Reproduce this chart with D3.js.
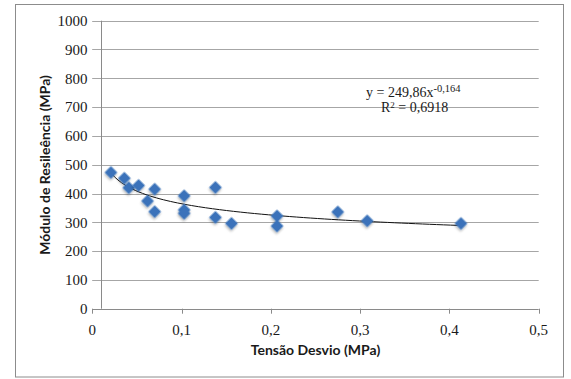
<!DOCTYPE html>
<html>
<head>
<meta charset="utf-8">
<script src="https://cdn.jsdelivr.net/npm/d3@7"></script>
<style>
  html, body { margin: 0; padding: 0; background: #fff; }
  svg { display: block; }
</style>
</head>
<body>
<svg id="chart" width="571" height="379"></svg>
<script>
// Deviator stress (MPa) and resilient modulus (MPa) measurements
const tensaoDesvio = [0.021, 0.036, 0.041, 0.052, 0.062, 0.070, 0.070, 0.103, 0.103, 0.103,
                      0.138, 0.138, 0.156, 0.207, 0.207, 0.275, 0.308, 0.413];
const moduloResiliencia = [473, 453, 420, 428, 374, 415, 337, 392, 343, 331,
                           421, 317, 296, 322, 287, 336, 305, 296];

// Power-law fit: y = a * x^b
const fitA = 249.86;
const fitB = -0.164;
const fitR2 = "0,6918";

const xTicks = [0, 0.1, 0.2, 0.3, 0.4, 0.5];
const yTicks = [0, 100, 200, 300, 400, 500, 600, 700, 800, 900, 1000];

const svg = d3.select("#chart");

const x = d3.scaleLinear().domain([0, 0.5]).range([92.2, 538.7]);
const y = d3.scaleLinear().domain([0, 1000]).range([308.7, 20.7]);
const yAxisX = 101.5;
const fmtComma = v => (v === 0 ? "0" : d3.format(".1f")(v).replace(".", ","));
const serif = "'Liberation Serif', 'DejaVu Serif', serif";
const sans = "Lato, 'Open Sans', sans-serif";

// Outer chart border
svg.append("rect")
  .attr("x", 15.5).attr("y", 4.5)
  .attr("width", 548).attr("height", 372.5)
  .attr("fill", "#fff").attr("stroke", "#8c8c8c").attr("stroke-width", 1);

// Horizontal gridlines (0 line is the x axis)
svg.append("g")
  .selectAll("line")
  .data(yTicks)
  .join("line")
  .attr("x1", x(0)).attr("x2", x(0.5))
  .attr("y1", d => Math.round(y(d)) + 0.5).attr("y2", d => Math.round(y(d)) + 0.5)
  .attr("stroke", d => d === 0 ? "#8a8a8a" : "#a6a6a6")
  .attr("stroke-width", 1);

// Vertical value axis line
svg.append("line")
  .attr("x1", yAxisX).attr("x2", yAxisX)
  .attr("y1", y(1000)).attr("y2", y(0))
  .attr("stroke", "#8a8a8a").attr("stroke-width", 1);

// X ticks
svg.append("g")
  .selectAll("line")
  .data(xTicks)
  .join("line")
  .attr("x1", d => Math.round(x(d)) + 0.5).attr("x2", d => Math.round(x(d)) + 0.5)
  .attr("y1", y(0)).attr("y2", y(0) + 5)
  .attr("stroke", "#8a8a8a");

// Y tick labels
svg.append("g")
  .selectAll("text")
  .data(yTicks)
  .join("text")
  .attr("x", 87.5)
  .attr("y", d => y(d))
  .attr("dy", "0.35em")
  .attr("text-anchor", "end")
  .attr("font-family", serif)
  .attr("font-size", 15)
  .attr("fill", "#1a1a1a")
  .text(d => d);

// X tick labels
svg.append("g")
  .selectAll("text")
  .data(xTicks)
  .join("text")
  .attr("x", d => x(d))
  .attr("y", 335)
  .attr("text-anchor", "middle")
  .attr("font-family", serif)
  .attr("font-size", 15)
  .attr("fill", "#1a1a1a")
  .text(fmtComma);

// Axis titles
svg.append("text")
  .attr("x", 315.5).attr("y", 355)
  .attr("text-anchor", "middle")
  .attr("font-family", sans)
  .attr("font-weight", "bold")
  .attr("font-size", 14)
  .attr("fill", "#1a1a1a")
  .text("Tensão Desvio (MPa)");

svg.append("text")
  .attr("transform", "translate(50,165) rotate(-90)")
  .attr("text-anchor", "middle")
  .attr("font-family", sans)
  .attr("font-weight", "bold")
  .attr("font-size", 14)
  .attr("fill", "#1a1a1a")
  .text("Módulo de Resileência (MPa)");

// Trend line from the fitted equation
const xMin = d3.min(tensaoDesvio), xMax = d3.max(tensaoDesvio);
const fitPts = d3.range(0, 101).map(i => {
  const xv = xMin + (xMax - xMin) * i / 100;
  return [xv, fitA * Math.pow(xv, fitB)];
});
svg.append("path")
  .datum(fitPts)
  .attr("fill", "none")
  .attr("stroke", "#111")
  .attr("stroke-width", 1)
  .attr("d", d3.line().x(d => x(d[0])).y(d => y(d[1])));

// Soft shadow for markers
const defs = svg.append("defs");
const f = defs.append("filter").attr("id", "mshadow")
  .attr("x", "-50%").attr("y", "-50%").attr("width", "200%").attr("height", "200%");
f.append("feDropShadow")
  .attr("dx", 1).attr("dy", 1.5).attr("stdDeviation", 1)
  .attr("flood-color", "#000").attr("flood-opacity", 0.3);

// Diamond markers
const diamond = d3.symbol().type(d3.symbolSquare).size(81);
svg.append("g")
  .selectAll("path")
  .data(tensaoDesvio.map((d, i) => [d, moduloResiliencia[i]]))
  .join("path")
  .attr("d", diamond)
  .attr("transform", d => `translate(${x(d[0])},${y(d[1])}) rotate(45)`)
  .attr("fill", "#3b72ba")
  .attr("filter", "url(#mshadow)");

// Equation and R² label
const eq = svg.append("text")
  .attr("x", 366).attr("y", 97)
  .attr("font-family", serif)
  .attr("font-size", 14)
  .attr("fill", "#1a1a1a");
eq.append("tspan").text("y = 249,86x");
eq.append("tspan").attr("dy", -5).attr("font-size", 10.5).text("-0,164");

const r2 = svg.append("text")
  .attr("x", 381).attr("y", 112)
  .attr("font-family", serif)
  .attr("font-size", 14)
  .attr("fill", "#1a1a1a");
r2.append("tspan").text("R");
r2.append("tspan").attr("dy", -4.5).attr("font-size", 9).text("2");
r2.append("tspan").attr("dy", 4.5).text(" = " + fitR2);
</script>
</body>
</html>
